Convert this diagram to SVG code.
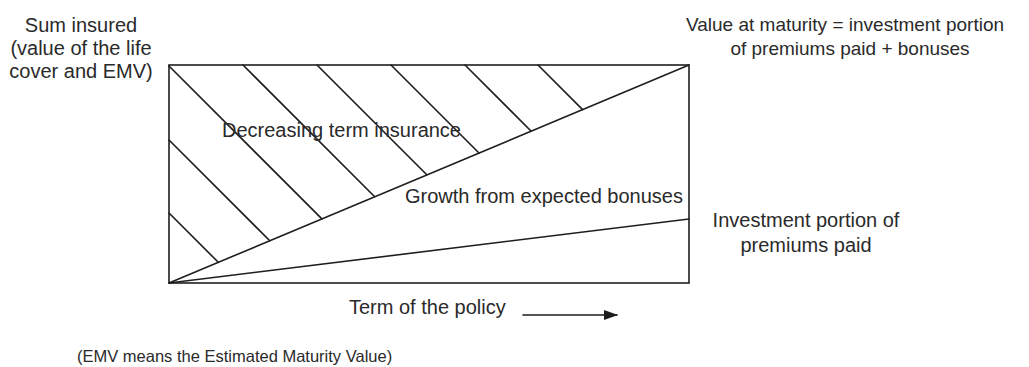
<svg xmlns="http://www.w3.org/2000/svg" width="1029" height="367" viewBox="0 0 1029 367">
  <style>
    .ln { stroke: #1e1e1e; stroke-width: 1.6; fill: none; stroke-linecap: round; }
    .tx { font-family: "Liberation Sans", Arial, sans-serif; font-size: 20px; fill: #2a2a2a; }
    .mid { text-anchor: middle; }
  </style>
  <defs>
    <marker id="arrowHead" viewBox="0 0 14 10" refX="13" refY="5" markerWidth="14" markerHeight="10" markerUnits="userSpaceOnUse" orient="auto">
      <path d="M0,0 L14,5 L0,10 Z" fill="#1e1e1e"/>
    </marker>
  </defs>
  <rect width="1029" height="367" fill="#ffffff"/>

  <!-- Chart frame -->
  <g id="frame">
    <rect class="ln" x="169" y="65" width="520" height="218"/>
  </g>

  <!-- Value lines from the start of the policy -->
  <g id="connectors">
    <line class="ln" x1="169" y1="283" x2="689" y2="65"/>
    <line class="ln" x1="169" y1="283" x2="689" y2="219"/>
    <line class="ln" x1="523" y1="315" x2="617" y2="315" marker-end="url(#arrowHead)"/>
  </g>

  <!-- Hatching of the decreasing term insurance area -->
  <g id="hatching">
    <line class="ln" x1="169" y1="213" x2="218.3" y2="262.3"/>
    <line class="ln" x1="169" y1="140" x2="269.8" y2="240.8"/>
    <line class="ln" x1="169" y1="66" x2="321.9" y2="218.9"/>
    <line class="ln" x1="243" y1="65" x2="374.7" y2="196.7"/>
    <line class="ln" x1="317" y1="65" x2="426.8" y2="174.8"/>
    <line class="ln" x1="391" y1="65" x2="479" y2="153"/>
    <line class="ln" x1="465" y1="65" x2="531.2" y2="131.2"/>
    <line class="ln" x1="538" y1="65" x2="582.6" y2="109.6"/>
  </g>

  <g id="label-sum-insured">
    <text class="tx mid" x="81" y="32">Sum insured</text>
    <text class="tx mid" x="81" y="55">(value of the life</text>
    <text class="tx mid" x="81" y="78">cover and EMV)</text>
  </g>

  <g id="label-maturity">
    <text class="tx mid" x="845" y="31" style="font-size:19px">Value at maturity = investment portion</text>
    <text class="tx mid" x="850" y="55" style="font-size:19px">of premiums paid + bonuses</text>
  </g>

  <g id="label-term-insurance">
    <text class="tx" x="222" y="137">Decreasing term insurance</text>
  </g>

  <g id="label-bonuses">
    <text class="tx" x="405" y="203">Growth from expected bonuses</text>
  </g>

  <g id="label-investment">
    <text class="tx mid" x="806" y="227">Investment portion of</text>
    <text class="tx mid" x="806" y="252">premiums paid</text>
  </g>

  <g id="label-term">
    <text class="tx" x="349" y="314">Term of the policy</text>
  </g>

  <g id="footnote">
    <text class="tx" x="77" y="362" style="font-size:16.5px">(EMV means the Estimated Maturity Value)</text>
  </g>
</svg>
